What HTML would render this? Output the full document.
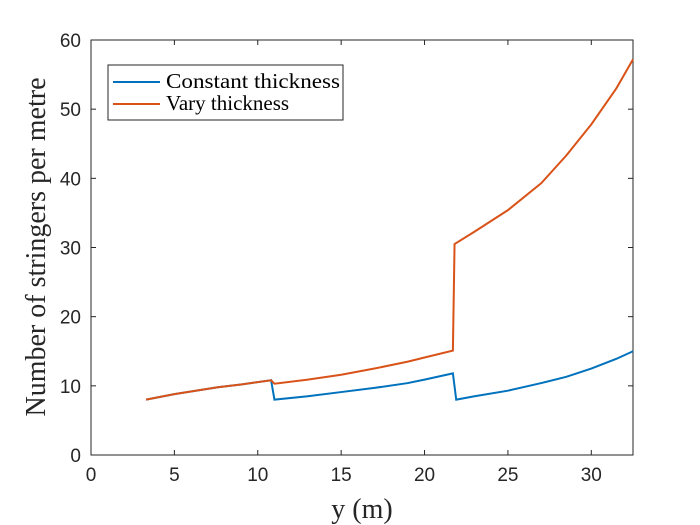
<!DOCTYPE html>
<html><head><meta charset="utf-8"><style>
body{margin:0;background:#fff}
svg{display:block}
.tk{font-family:"Liberation Sans",sans-serif;font-size:19px;fill:#262626}
.lb{font-family:"Liberation Serif",serif;font-size:28px;fill:#262626}
.lg{font-family:"Liberation Serif",serif;font-size:21px;fill:#000}
</style></head><body>
<svg id="c" width="700" height="525"></svg>
<script>
const xTicks=[0,5,10,15,20,25,30];
const yTicks=[0,10,20,30,40,50,60];
const constX=[3.3,5,7.6,9,10.8,11.0,13,15,17,19,20,21.7,21.9,23,25,27,28.5,30,31.5,32.5];
const constY=[8,8.8,9.8,10.2,10.8,8,8.5,9.1,9.7,10.4,10.9,11.8,8,8.5,9.3,10.4,11.3,12.5,13.9,15];
const varyX=[3.3,5,7.6,9,10.8,11.0,13,15,17,19,20,21.7,21.8,23,25,27,28.5,30,31.5,32.5];
const varyY=[8,8.8,9.8,10.2,10.8,10.3,10.9,11.6,12.5,13.5,14.1,15.1,30.5,32.3,35.4,39.3,43.3,47.8,53,57.2];
const L=91,R=633,T=40,B=455,XMAX=32.5,YMAX=60;
const sx=v=>L+v/XMAX*(R-L), sy=v=>B-v/YMAX*(B-T);
const svg=document.getElementById('c');const NS='http://www.w3.org/2000/svg';
function mk(t,a){const e=document.createElementNS(NS,t);for(const k in a)e.setAttribute(k,a[k]);svg.appendChild(e);return e;}
const bg=mk('rect',{x:L,y:T,width:R-L,height:B-T,fill:'#fff',stroke:'#262626','stroke-width':1});


xTicks.forEach(v=>{const x=sx(v);
mk('line',{x1:x,x2:x,y1:B,y2:B-5,stroke:'#262626'});mk('line',{x1:x,x2:x,y1:T,y2:T+5,stroke:'#262626'});
const t=mk('text',{x:x,y:B+26,'text-anchor':'middle',class:'tk'});t.textContent=v;

});
yTicks.forEach(v=>{const y=sy(v);
mk('line',{x1:L,x2:L+5,y1:y,y2:y,stroke:'#262626'});mk('line',{x1:R,x2:R-5,y1:y,y2:y,stroke:'#262626'});
const t=mk('text',{x:L-10,y:y+7,'text-anchor':'end',class:'tk'});t.textContent=v;

});
function line(xs,ys,c,n){const p=mk('polyline',{points:xs.map((x,i)=>sx(x)+','+sy(ys[i])).join(' '),fill:'none',stroke:c,'stroke-width':2});

}
line(constX,constY,'#0072BD','constant-thickness-line');
line(varyX,varyY,'#D95319','vary-thickness-line');
const xl=mk('text',{x:362,y:518,'text-anchor':'middle',class:'lb'});xl.textContent='y (m)';


const yl=mk('text',{x:0,y:0,'text-anchor':'middle',class:'lb',transform:'translate(45,247) rotate(-90)'});yl.textContent='Number of stringers per metre';


const lg=mk('rect',{x:108,y:65,width:235,height:55,fill:'#fff',stroke:'#262626','stroke-width':1});


[['Constant thickness','#0072BD',82],['Vary thickness','#D95319',104]].forEach(([s,c,y])=>{
mk('line',{x1:113,x2:160,y1:y,y2:y,stroke:c,'stroke-width':2});
const t=mk('text',{x:166,y:y+6,class:'lg',textLength:174,lengthAdjust:'spacingAndGlyphs'});
if(s!=='Constant thickness')t.removeAttribute('textLength');
t.textContent=s;

});
</script>
</body></html>
